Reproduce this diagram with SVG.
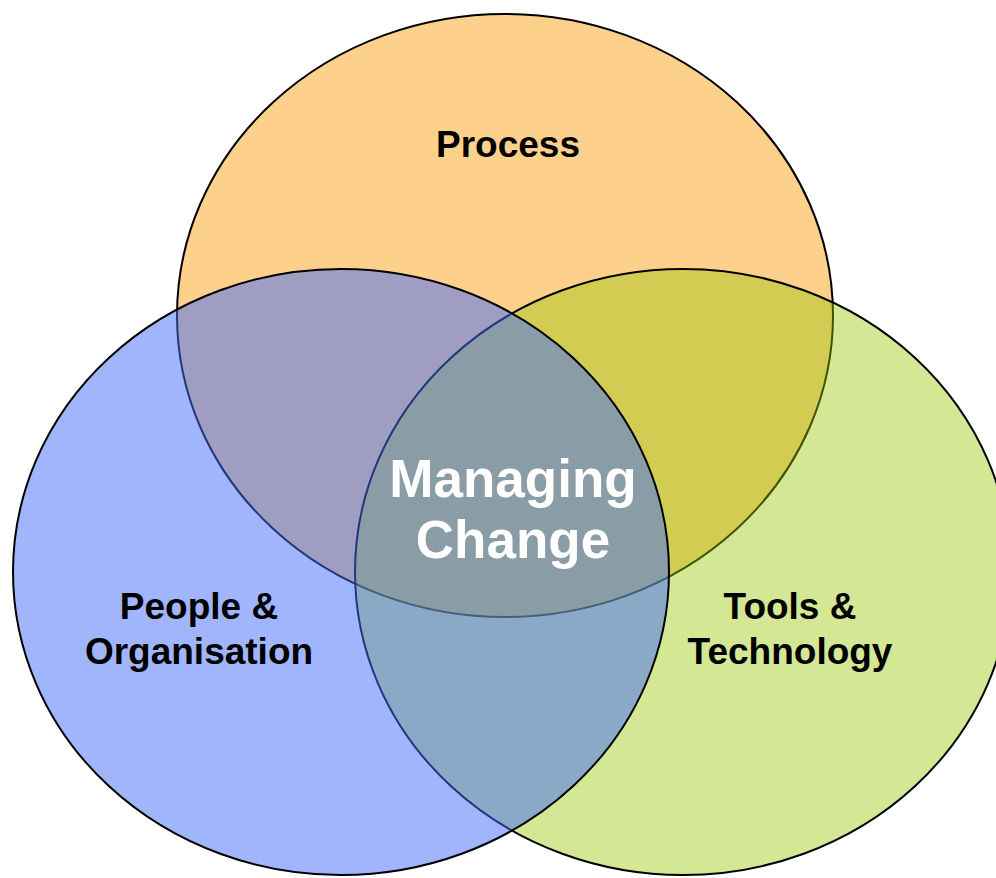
<svg xmlns="http://www.w3.org/2000/svg" width="996" height="878" viewBox="0 0 996 878">
  <style>
    .circle { stroke: #000; stroke-width: 2; }
    .lbl { font-family: "Liberation Sans", Arial, sans-serif; font-weight: bold; font-size: 37px; fill: #000; text-anchor: middle; }
    .center { font-family: "Liberation Sans", Arial, sans-serif; font-weight: bold; font-size: 53px; fill: #fff; text-anchor: middle; }
  </style>
  <rect width="996" height="878" fill="#ffffff"/>
  <g id="process">
    <ellipse class="circle" cx="505" cy="315.5" rx="328" ry="301.5" fill="#fdd08c"/>
  </g>
  <g id="tools">
    <ellipse class="circle" cx="683" cy="572" rx="328" ry="303" fill="rgb(150,198,3)" fill-opacity="0.42"/>
  </g>
  <g id="people">
    <ellipse class="circle" cx="341" cy="572" rx="328" ry="303" fill="rgb(65,107,247)" fill-opacity="0.5"/>
  </g>
  <g id="connectors"/>
  <g id="labels">
    <text class="lbl" x="508" y="157">Process</text>
    <text class="lbl" x="199" y="619">People &amp;</text>
    <text class="lbl" x="199" y="664">Organisation</text>
    <text class="lbl" x="790" y="619">Tools &amp;</text>
    <text class="lbl" x="790" y="664">Technology</text>
    <g id="managing-change">
      <text class="center" x="513" y="497">Managing</text>
      <text class="center" x="513" y="558">Change</text>
    </g>
  </g>
</svg>
